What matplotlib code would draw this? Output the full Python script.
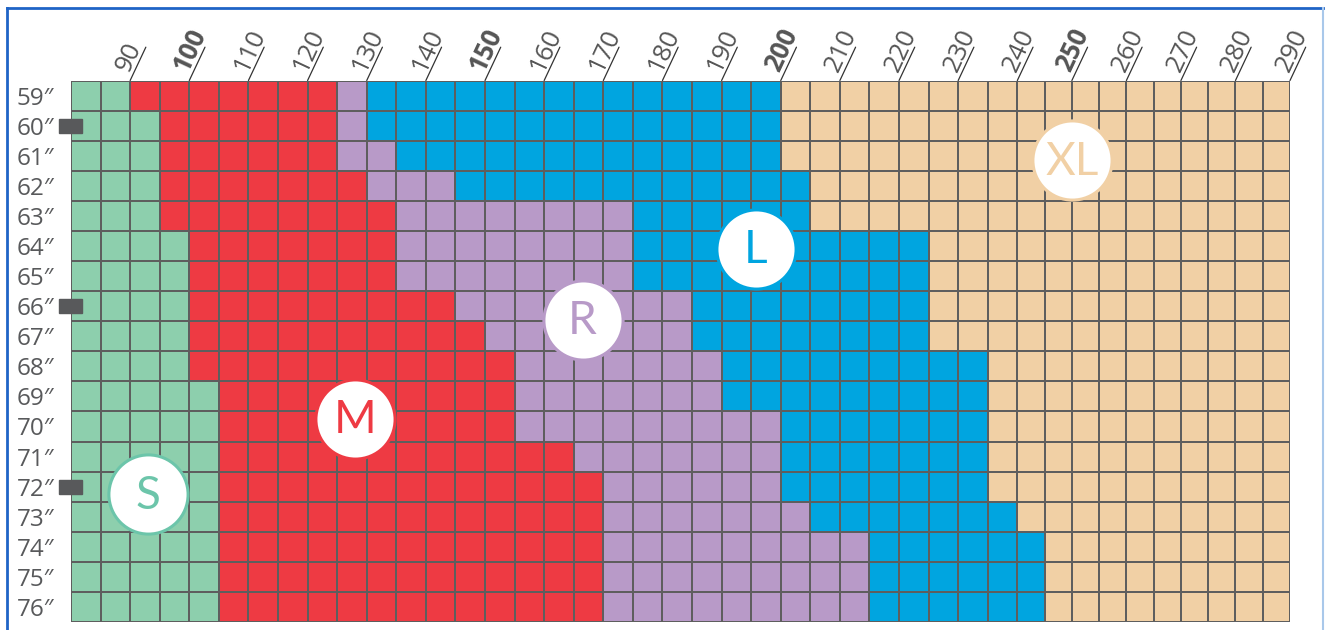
import numpy as np
import matplotlib
matplotlib.use("Agg")
import matplotlib.pyplot as plt
from matplotlib.colors import ListedColormap
from matplotlib.patches import Rectangle
from matplotlib.lines import Line2D

plt.rcParams['font.family'] = ['Open Sans', 'DejaVu Sans']

# size chart: height (rows) x weight in lbs (5 lb columns from 80 to 290)
sizes = ['S', 'M', 'R', 'L', 'XL']
size_colors = ['#8dcfad', '#ee3a43', '#b89ac8', '#00a5e0', '#f1d0a5']
badge_text_colors = ['#6cc5aa', '#ee3a43', '#b89ac8', '#00a5e0', '#f1d0a5']

heights = [59, 60, 61, 62, 63, 64, 65, 66, 67, 68, 69, 70, 71, 72, 73, 74, 75, 76]
weight_edges = list(range(80, 295, 5))
weight_labels = list(range(90, 300, 10))
bold_labels = [100, 150, 200, 250]

# index of the first 5 lb column where each size begins, per height row
m_start = [2, 3, 3, 3, 3, 4, 4, 4, 4, 4, 5, 5, 5, 5, 5, 5, 5, 5]
r_start = [9, 9, 9, 10, 11, 11, 11, 13, 14, 15, 15, 15, 17, 18, 18, 18, 18, 18]
l_start = [10, 10, 11, 13, 19, 19, 19, 21, 21, 22, 22, 24, 24, 24, 25, 27, 27, 27]
xl_start = [24, 24, 24, 25, 25, 29, 29, 29, 29, 31, 31, 31, 31, 31, 32, 33, 33, 33]

foot_marks = [60, 66, 72]

# where the round size badges sit, in (column, row) units
badge_col = [2.6, 9.6, 17.3, 23.15, 33.85]
badge_row = [13.75, 11.25, 7.95, 5.6, 2.65]

n_cols = len(weight_edges) - 1
cols = np.arange(n_cols)
starts = np.array([m_start, r_start, l_start, xl_start]).T
grid = (cols[None, :, None] >= starts[:, None, :]).sum(axis=2)

# the printed chart squeezes the columns past 240 lbs a little
col_w = np.where(cols < 32, 1.0, 0.922)
x_edges = np.concatenate([[0], np.cumsum(col_w)])
y_edges = np.arange(len(heights) + 1)

fig = plt.figure(figsize=(13.25, 6.3), dpi=100)
ax = fig.add_axes([71 / 1325, 8 / 630, (1290 - 71) / 1325, (622 - 80.5) / 630])

ax.pcolormesh(x_edges, y_edges, grid, cmap=ListedColormap(size_colors),
              vmin=-0.5, vmax=4.5, edgecolors='#5e5e5e', linewidth=1.3)
ax.set_xlim(0, x_edges[-1])
ax.set_ylim(len(heights), 0)

ax.set_xticks([])
ax.set_yticks(np.arange(len(heights)) + 0.5, [f'{h}\u2033' for h in heights])
ax.tick_params(axis='y', length=0, pad=12, labelsize=17.5, labelcolor='#58595b')
for s in ax.spines.values():
    s.set_visible(False)

# slanted weight labels on top
for w in weight_labels:
    x = x_edges[(w - 80) // 5]
    ax.annotate('', xy=(x, 0), xytext=(11.3, 24), textcoords='offset points',
                arrowprops=dict(arrowstyle='-', color='#333333', lw=0.9,
                                shrinkA=0, shrinkB=0),
                annotation_clip=False)
    ax.annotate(str(w), xy=(x, 0), xytext=(-1.2, 5.5), textcoords='offset points',
                rotation=65, rotation_mode='anchor', ha='left', va='baseline',
                fontsize=18.5, color='#555555',
                fontweight='bold' if w in bold_labels else 'normal',
                annotation_clip=False)

# little markers at 5', 5'6" and 6'
for h in foot_marks:
    r = heights.index(h)
    ax.add_patch(Rectangle((-0.41, r + 0.5 - 0.235), 0.78, 0.47,
                           color='#58595b', clip_on=False, zorder=5))

# size badges
for name, cx, cy, col, tcol in zip(sizes, badge_col, badge_row, size_colors, badge_text_colors):
    ax.scatter(cx, cy, s=3250, c='white', edgecolors=tcol, linewidths=2.2,
               zorder=6, clip_on=False)
    ax.text(cx, cy + 0.05, name, ha='center', va='center', fontsize=33,
            color=tcol, family=['Lato', 'DejaVu Sans'], fontweight='normal', zorder=7)

# blue frame of the page
fig.add_artist(Line2D([7 / 1325, 7 / 1325], [0, 1 - 8 / 630],
                      transform=fig.transFigure, color='#1f64c6', lw=2))
fig.add_artist(Line2D([7 / 1325, 1323 / 1325], [1 - 8 / 630, 1 - 8 / 630],
                      transform=fig.transFigure, color='#1f64c6', lw=2))
fig.add_artist(Line2D([1323 / 1325, 1323 / 1325], [0, 1 - 8 / 630],
                      transform=fig.transFigure, color='#a9c8ea', lw=1.5))

fig.savefig('out.png', dpi=100)
